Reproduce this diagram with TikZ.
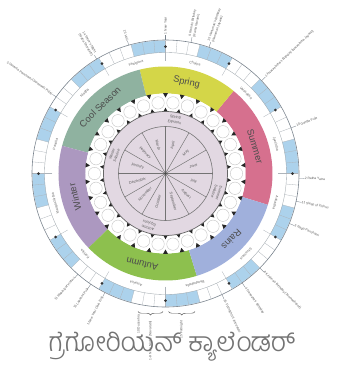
\documentclass[tikz,border=0pt]{standalone}
\usepackage{fontspec}
\setmainfont{Liberation Sans}
\newfontfamily\kannadafont[Script=Kannada]{Hind Mysuru Light}
\usepackage{xcolor}
\definecolor{coolseason}{RGB}{143,178,160}
\definecolor{springcol}{RGB}{212,214,72}
\definecolor{summercol}{RGB}{214,112,142}
\definecolor{rainscol}{RGB}{160,176,220}
\definecolor{autumncol}{RGB}{141,192,78}
\definecolor{wintercol}{RGB}{172,152,192}
\definecolor{innerdisc}{RGB}{226,216,226}
\definecolor{cellblue}{RGB}{172,210,236}
\definecolor{ringline}{RGB}{120,130,140}
\usetikzlibrary{arrows.meta,decorations.pathreplacing,calc}

% ring sector: colour, start angle, end angle, inner radius, outer radius
\newcommand{\ringsector}[5]{%
  \fill[#1] (#2:#4) arc[start angle=#2, end angle=#3, radius=#4]
    -- (#3:#5) arc[start angle=#3, end angle=#2, radius=#5] -- cycle;}

\tikzset{
  seasonlabel/.style={font=\fontsize{8}{8}\selectfont, text=black!70},
  monthlabel/.style={font=\fontsize{3}{3}\selectfont, text=black!60, inner sep=0pt},
  wheellabel/.style={font=\fontsize{3.2}{4.2}\selectfont, text=black!65, inner sep=0pt},
  feastlabel/.style={font=\fontsize{2.8}{3.8}\selectfont, text=black!65, align=left, inner sep=0.2pt},
  leader/.style={ringline, line width=0.3pt}
}

\begin{document}
\begin{tikzpicture}[x=0.03cm, y=0.03cm]
  % canvas
  \fill[white] (-165.5,-205.5) rectangle (177.5,173.5);
  \useasboundingbox (-165.5,-205.5) rectangle (177.5,173.5);

  % outer day ring, blue dark halves
  \foreach \k in {0,...,11} {
    \pgfmathsetmacro\sa{30*\k}
    \pgfmathsetmacro\ea{30*\k+15}
    \ringsector{cellblue}{\sa}{\ea}{121}{133}
  }
  \foreach \a in {0,5,...,355}
    \draw[ringline!60, line width=0.25pt] (\a:121) -- (\a:133);
  \draw[ringline, line width=0.5pt] (0,0) circle (133.5);
  \draw[ringline!70, line width=0.3pt] (0,0) circle (121);
  \foreach \k in {0,...,11} {
    \fill[black!80] (30*\k:127) circle (1.5);
    \draw[ringline!60, line width=0.25pt] (30*\k:113) -- (30*\k:121);
  }

  % month names in the white band
  \foreach \a/\m [count=\i] in {75/Chaitra, 45/Vaishakha, 15/Jyeshtha, -15/Ashadha,
      -45/Shravana, -75/Bhadrapada, -105/Ashvina, -135/Kartika,
      -165/Margashirsha, 165/Pausha, 135/Magha, 105/Phalguna}
    \node[monthlabel, rotate=\a-90] (month\i) at (\a:114) {\m};

  % seasons
  \ringsector{summercol}{-17}{50.5}{80}{107}
  \ringsector{springcol}{50.5}{104}{80}{107}
  \ringsector{coolseason}{104}{165}{80}{107}
  \ringsector{wintercol}{165}{224}{80}{107}
  \ringsector{autumncol}{224}{287}{80}{107}
  \ringsector{rainscol}{287}{343}{80}{107}
  \node[seasonlabel, rotate=-73.25] (summer) at (16.75:93.5) {Summer};
  \node[seasonlabel, rotate=-13] (spring) at (77:93.5) {Spring};
  \node[seasonlabel, rotate=44.5] (cool) at (134.5:93.5) {Cool Season};
  \node[seasonlabel, rotate=104.5] (winter) at (194.5:93.5) {Winter};
  \node[seasonlabel, rotate=165.5] (autumn) at (255.5:93.5) {Autumn};
  \node[seasonlabel, rotate=225] (rains) at (315:93.5) {Rains};

  % toothed ring of lunar days
  \fill[white] (0,0) circle (80);
  \foreach \k in {0,...,29} {
    \draw[black!25, line width=0.3pt, fill=white] (\k*12:71) circle (6.2);
  }
  \foreach \k in {0,...,29} {
    \pgfmathsetmacro\t{\k*12+6}
    \fill[black!85] (\t-1.7:80.3) -- (\t+1.7:80.3) -- (\t:76) -- cycle;
    \fill[black!85] (\t-2.1:61.7) -- (\t+2.1:61.7) -- (\t:65.8) -- cycle;
  }

  % inner disc and twelve month wheel
  \draw[black!60, line width=0.6pt, fill=innerdisc] (0,0) circle (62);
  \draw[black!55, line width=0.5pt] (0,0) circle (47);
  \foreach \a in {0,30,...,330}
    \draw[black!55, line width=0.4pt] (0,0) -- (\a:47);
  \fill[black!70] (0,0) circle (1.4);
  \foreach \a/\m [count=\i] in {75/April, 45/May, 15/June, -15/July, -45/August,
      -75/September, -105/October, -135/November, -165/December,
      165/January, 135/February, 105/March} {
    \pgfmathsetmacro\r{ifthenelse(cos(\a)<0,\a+180,\a)}
    \node[wheellabel, rotate=\r] (wheel\i) at (\a:29) {\m};
  }
  \node[wheellabel, align=center, rotate=-10] (springeq) at (80:54.5) {Spring\\Equinox};
  \node[wheellabel, align=center, rotate=-110] (summersol) at (-20:54.5) {Summer\\Solstice};
  \node[wheellabel, align=center, rotate=162] (autumneq) at (-108:54.5) {Autumn\\Equinox};
  \node[wheellabel, align=center, rotate=70] (wintersol) at (160:54.5) {Winter\\Solstice};

  % festivals, right half
  \foreach \a/\t [count=\i] in {90/{1 New Year},
      79/{9 Rama's Birthday\\(Rama Navami)},
      71/{15 Hanuman's Birthday\\(Hanuman Jayanti)},
      44/{14 Narasimha's Birthday (Narasimha Jayanti)},
      20/{10 Ganga Puja},
      -2/{2 Ratha Yatra},
      -12/{11 Sleep of Vishnu},
      -22/{5 Naga Panchami},
      -45/{8 Krishna's Birthday (Janmashtami)},
      -55/{4 Ganesha's Birthday},
      -65/{15 Fortnight of Ancestors}} {
    \draw[leader] (\a:133.5) -- (\a:139);
    \node[feastlabel, anchor=west, rotate=\a] (feastr\i) at (\a:139) {\t};
  }
  % festivals, left half
  \foreach \a/\t [count=\i] in {106/{15 Holi},
      121/{14 Shiva's Night\\(Maha Shivaratri)},
      145/{5 Vasanta Panchami (Saraswati Puja)},
      229/{11 Waking of Vishnu},
      236/{15 Lakshmi Puja},
      243/{1 New Year (Jain Era)}} {
    \draw[leader] (\a:133.5) -- (\a:138);
    \node[feastlabel, anchor=east, rotate=\a+180] (feastl\i) at (\a:138) {\t};
  }

  % braces under the ring
  \coordinate (braceAa) at (-2.5,-138);
  \coordinate (braceAb) at (-27.5,-138);
  \coordinate (braceBa) at (29.5,-138);
  \coordinate (braceBb) at (3,-138);
  \draw[black!65, line width=0.4pt, decorate, decoration={brace, amplitude=3pt}]
    (braceAa) -- (braceAb);
  \draw[black!65, line width=0.4pt, decorate, decoration={brace, amplitude=3pt}]
    (braceBa) -- (braceBb);
  \node[feastlabel, anchor=east, rotate=90] (navaratri) at (-15,-147) {1--9 Nine Nights (Navaratri)};
  \node[feastlabel, anchor=east, rotate=90] (dussehra) at (-27,-141) {10 Dussehra};
  \node[feastlabel, anchor=east, rotate=90] (kojagari) at (16,-147) {15 Fortnight};

  % caption
  \node[text=black!55, font=\kannadafont\fontsize{23}{23}\selectfont] (caption) at (6.5,-173)
    {ಗ್ರೆಗೋರಿಯನ್ ಕ್ಯಾಲೆಂಡರ್};
\end{tikzpicture}
\end{document}
